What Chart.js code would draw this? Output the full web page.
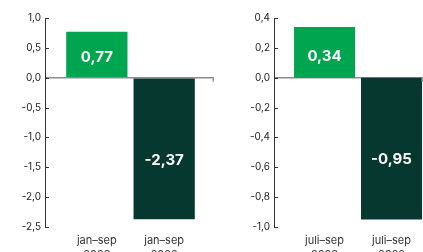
<!DOCTYPE html>
<html><head><meta charset="utf-8">
<script src="https://cdn.jsdelivr.net/npm/chart.js@4/dist/chart.umd.min.js"></script>
<style>
html,body{margin:0;padding:0;background:#fff;overflow:hidden;width:423px;height:252px;}
#a{position:absolute;left:0;top:0;width:214px;height:262px;}
#b{position:absolute;left:213px;top:0;width:210px;height:262px;}
</style></head><body>
<canvas id="a" width="214" height="262"></canvas>
<canvas id="b" width="210" height="262"></canvas>
<script>
const categoriesLeft = [['jan–sep', '2023'], ['jan–sep', '2022']];
const valuesLeft = [0.77, -2.37];
const categoriesRight = [['juli–sep', '2023'], ['juli–sep', '2022']];
const valuesRight = [0.34, -0.95];
const yTickLeft = [-2.5, 1.0, 0.5];
const yTickRight = [-1.0, 0.4, 0.2];
const barColors = ['#00a550', '#06382f'];

const FONT = 'Inter';

const decor = {
  id: 'decor',
  afterDatasetsDraw(chart) {
    const ctx = chart.ctx, y = chart.scales.y, ca = chart.chartArea, left = ca.left;
    ctx.save();
    ctx.strokeStyle = '#333'; ctx.lineWidth = 1;
    y.ticks.forEach(t => {
      const py = Math.round(y.getPixelForValue(t.value)) + 0.5;
      ctx.beginPath(); ctx.moveTo(left, py); ctx.lineTo(left + 4, py); ctx.stroke();
    });
    // small end mark of the zero line
    const zy = y.getPixelForValue(0);
    ctx.strokeStyle = '#9a9a9a'; ctx.lineWidth = 1.5;
    ctx.beginPath(); ctx.moveTo(ca.right - 0.75, zy); ctx.lineTo(ca.right - 0.75, zy + 4); ctx.stroke();
    const meta = chart.getDatasetMeta(0);
    ctx.fillStyle = '#fff';
    ctx.font = 'bold 15px ' + FONT;
    ctx.textAlign = 'center'; ctx.textBaseline = 'middle';
    meta.data.forEach((bar, i) => {
      const top = Math.min(bar.y, bar.base), h = Math.abs(bar.base - bar.y);
      ctx.fillText(chart.data.datasets[0].data[i].y.toFixed(2).replace('.', ','), bar.x, top + h * 0.58);
    });
    ctx.restore();
  }
};

function makeChart(id, cats, vals, yt, axisWidth, xMin, xMax) {
  return new Chart(document.getElementById(id), {
    type: 'bar',
    data: {
      datasets: [{
        data: vals.map((v, i) => ({ x: i, y: v })),
        backgroundColor: barColors,
        borderWidth: 0,
        barPercentage: 0.91,
        categoryPercentage: 1
      }]
    },
    options: {
      responsive: false,
      animation: false,
      layout: { padding: { top: 18, right: 0, left: 0, bottom: 0 } },
      plugins: { legend: { display: false }, tooltip: { enabled: false } },
      scales: {
        x: {
          type: 'linear',
          offset: false,
          min: xMin, max: xMax,
          afterBuildTicks: s => { s.ticks = cats.map((c, i) => ({ value: i })); },
          afterFit: s => { s.height = 35; },
          grid: { display: false, drawTicks: false, offset: false },
          border: { display: false },
          ticks: {
            autoSkip: false, maxRotation: 0, padding: 7,
            color: '#333', font: { family: FONT, size: 11, lineHeight: 1.25 },
            callback: v => cats[v] || ''
          }
        },
        y: {
          min: yt[0], max: yt[1],
          afterFit: s => { s.width = axisWidth; },
          grid: {
            drawTicks: false,
            color: c => (c.tick && Math.abs(c.tick.value) < 1e-9) ? '#8c8c8c' : 'rgba(0,0,0,0)',
            lineWidth: 1.5
          },
          border: { display: true, color: '#333', width: 1 },
          ticks: {
            stepSize: yt[2], padding: 4,
            color: '#222', font: { family: FONT, size: 10 },
            callback: v => (Math.abs(v) < 1e-9 ? 0 : v).toFixed(1).replace('.', ',')
          }
        }
      }
    },
    plugins: [decor]
  });
}

makeChart('a', categoriesLeft, valuesLeft, yTickLeft, 45, -0.77, 1.74);
makeChart('b', categoriesRight, valuesRight, yTickRight, 61, -0.754, 1.47);
</script>
</body></html>
